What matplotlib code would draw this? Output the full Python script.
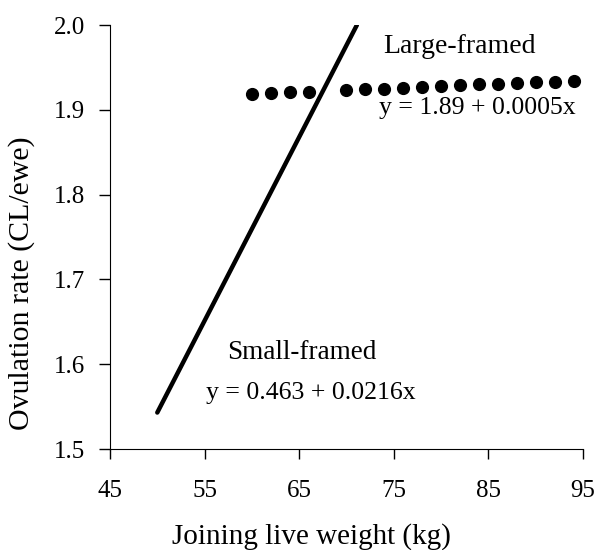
import matplotlib
matplotlib.use("Agg")
import matplotlib.pyplot as plt

# large-framed ewes: points
large_x = [60, 62, 64, 66, 70, 72, 74, 76, 78, 80, 82, 84, 86, 88, 90, 92, 94]
large_y = [1.919, 1.920, 1.921, 1.921, 1.923, 1.924, 1.925, 1.926, 1.927,
           1.928, 1.929, 1.930, 1.931, 1.932, 1.933, 1.933, 1.934]

# small-framed ewes: fitted line end points
small_x = [50, 71.1]
small_y = [1.543, 2.0]

xticks = [45, 55, 65, 75, 85, 95]
yticks = [1.5, 1.6, 1.7, 1.8, 1.9, 2.0]

plt.rcParams['font.family'] = ['Liberation Serif', 'DejaVu Serif']

fig = plt.figure(figsize=(5.99, 5.5), dpi=100)
ax = fig.add_axes([0.1836, 0.1836, 0.7897, 0.7709])

ax.plot(small_x, small_y, color='black', lw=3.2, solid_capstyle='round')
ax.scatter(large_x, large_y, s=72, color='black', zorder=3)

ax.set_xlim(45, 95)
ax.set_ylim(1.5, 2.0)
ax.set_xticks(xticks)
ax.set_yticks(yticks)
ax.set_yticklabels([f"{v:.1f}" for v in yticks])
for s in ['top', 'right']:
    ax.spines[s].set_visible(False)
ax.tick_params(axis='x', direction='out', length=7, width=1, pad=15, labelsize=18)
ax.tick_params(axis='y', direction='out', length=8, width=1, pad=10, labelsize=18)

ax.set_xlabel('Joining live weight (kg)', fontsize=21)
ax.set_ylabel('Ovulation rate (CL/ewe)', fontsize=21.5)
ax.xaxis.set_label_coords(0.425, -0.175)
ax.yaxis.set_label_coords(-0.158, 0.39)

ax.text(73.9, 1.975, 'Large-framed', fontsize=20, va='center')
ax.text(73.4, 1.902, 'y = 1.89 + 0.0005x', fontsize=18.5, va='center')
ax.text(57.4, 1.614, 'Small-framed', fontsize=19.5, va='center')
ax.text(55.1, 1.566, 'y = 0.463 + 0.0216x', fontsize=18.5, va='center')

fig.savefig('out.png', dpi=100)
